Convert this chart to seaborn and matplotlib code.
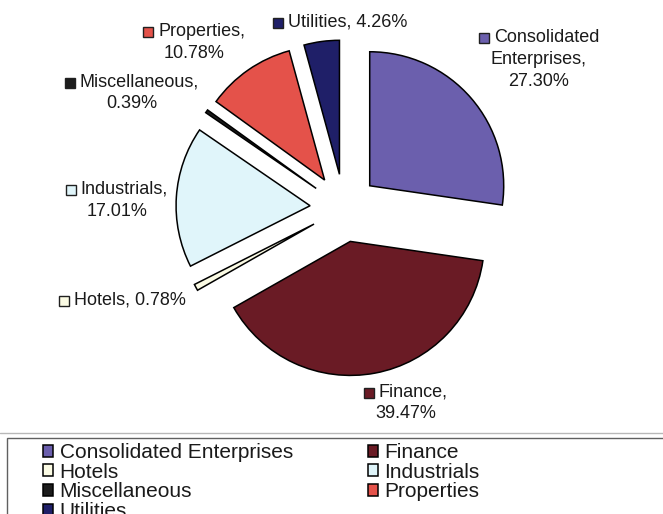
import matplotlib
matplotlib.use("Agg")
import matplotlib.pyplot as plt
from matplotlib.patches import Rectangle
import seaborn as sns

# Sector shares of the group portfolio (%)
sectors = ["Consolidated Enterprises", "Finance", "Hotels", "Industrials",
           "Miscellaneous", "Properties", "Utilities"]
shares = [27.30, 39.47, 0.78, 17.01, 0.39, 10.78, 4.26]
colors = ["#6B5FAD", "#6A1B25", "#FBFBE4", "#E0F5FA",
          "#1C1C1C", "#E4524A", "#1F1F68"]

sns.set_theme(style="white")
plt.rcParams["font.family"] = ["Liberation Sans", "DejaVu Sans"]

W, H = 663, 514
fig = plt.figure(figsize=(W / 100, H / 100), dpi=100)
fig.patch.set_facecolor("white")
ax = fig.add_axes([0, 0, 1, 1])


def py(v):
    """Convert a top-down pixel row into the axes' y coordinate."""
    return H - v


wedges, _ = ax.pie(
    shares, colors=colors, startangle=90, counterclock=False,
    radius=134, center=(344, py(208)), explode=[34] * len(shares),
    wedgeprops=dict(edgecolor="black", linewidth=1.1),
)
ax.set_xlim(0, W)
ax.set_ylim(0, H)
ax.set_aspect("auto")
ax.axis("off")

# Data labels: category name plus share, with the legend key before the first line
label_pos = {  # (centre x, first line row) in pixels
    "Consolidated Enterprises": (539, 37),
    "Finance": (406, 392),
    "Hotels": (122, 300),
    "Industrials": (117, 189),
    "Miscellaneous": (132, 82),
    "Properties": (194, 31),
    "Utilities": (340, 22),
}
single_line = {"Hotels", "Utilities"}
line_gap = 22
label_fs = 13
key = 10
key_pad = 5

fig.canvas.draw()
renderer = fig.canvas.get_renderer()

for name, share, col in zip(sectors, shares, colors):
    pct = f"{share:.2f}%"
    if name in single_line:
        lines = [f"{name}, {pct}"]
    elif " " in name:
        parts = name.split()
        lines = [parts[0], " ".join(parts[1:]) + ",", pct]
    else:
        lines = [f"{name},", pct]
    cx, y0 = label_pos[name]
    for i, ln in enumerate(lines):
        yy = y0 + i * line_gap
        if i == 0:
            t = ax.text(0, py(yy), ln, fontsize=label_fs, color="#1a1a1a",
                        ha="left", va="center")
            bb = t.get_window_extent(renderer)
            total = key + key_pad + bb.width
            left = cx - total / 2
            t.set_x(left + key + key_pad)
            ax.add_patch(Rectangle((left, py(yy) - key / 2 - 1), key, key,
                                   facecolor=col, edgecolor="#202020", lw=1))
        else:
            ax.text(cx, py(yy), ln, fontsize=label_fs, color="#1a1a1a",
                    ha="center", va="center")

# Chart-area border and legend frame
ax.plot([0, W], [py(433), py(433)], color="#b8b8b8", lw=1)
ax.add_patch(Rectangle((7, py(560)), 700, 560 - 438, facecolor="none",
                       edgecolor="#606060", lw=1))

order = [0, 2, 4, 6, 1, 3, 5]
leg = ax.legend([wedges[i] for i in order], [sectors[i] for i in order],
                ncol=2, loc="upper left", bbox_to_anchor=(43 / W, py(443) / H),
                frameon=False, fontsize=15, handlelength=0.5, handleheight=0.5,
                handletextpad=0.3, labelspacing=0.03, columnspacing=3.6,
                borderpad=0, borderaxespad=0)
for txt in leg.get_texts():
    txt.set_color("#1a1a1a")

fig.savefig("out.png", dpi=100, facecolor="white")
